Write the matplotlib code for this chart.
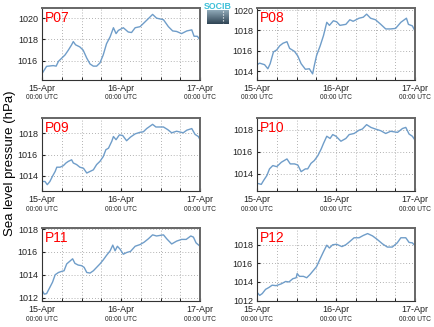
import numpy as np
import matplotlib
matplotlib.use('Agg')
import matplotlib.pyplot as plt
import matplotlib.dates as mdates
from datetime import datetime, timedelta

plt.rcParams['font.family'] = ['Liberation Sans', 'DejaVu Sans']

# hours after 15-Apr 00:00 UTC, and sea level pressure (hPa) per station
p07_h = [0, 1.4, 3.4, 4.3, 5, 6, 7, 8, 9, 9.5, 10.2, 11.5, 12.5, 13.6, 14.6, 15.6, 16.6, 17.6, 18.6, 19.6,
         20.7, 21.7, 22.5, 23.2, 24.7, 26.2, 27.2, 28.3, 29.8, 31.3, 32.3, 33.6, 34.8, 36.9, 38.4, 39.7,
         40.9, 42.4, 44, 45.5, 46.2, 47.2, 48]
p07_v = [1014.8, 1015.48, 1015.55, 1015.5, 1015.95, 1016.25, 1016.55, 1017.0, 1017.5, 1017.8, 1017.5, 1017.3,
         1017.0, 1016.25, 1015.7, 1015.5, 1015.5, 1015.8, 1016.55, 1017.6, 1018.25, 1019.1, 1018.55, 1018.85,
         1019.1, 1018.7, 1018.65, 1019.1, 1019.2, 1019.65, 1019.95, 1020.35, 1020.0, 1019.85, 1019.2, 1018.8,
         1018.75, 1018.55, 1018.8, 1018.9, 1018.3, 1018.3, 1017.95]

p08_h = [0, 0.8, 2.3, 3.3, 4.0, 5, 6, 6.9, 7.9, 9.1, 9.9, 11.4, 12.4, 13.4, 14.7, 15.9, 16.9, 17.4, 18.1,
         19.2, 20.2, 21.2, 22, 23.2, 24.2, 25.2, 27, 28.2, 29.2, 31, 32.3, 33.3, 34.5, 36, 37.6, 39.1,
         40.6, 42.1, 43.7, 45.4, 46, 47.2, 48]
p08_v = [1014.65, 1014.8, 1014.65, 1014.25, 1014.75, 1015.9, 1016.1, 1016.5, 1016.75, 1016.9, 1016.25,
         1015.95, 1015.5, 1014.75, 1014.2, 1014.25, 1013.75, 1014.55, 1015.55, 1016.5, 1017.5, 1018.8, 1018.5,
         1018.95, 1018.85, 1018.5, 1018.6, 1019.05, 1018.9, 1019.2, 1019.3, 1019.6, 1019.2, 1019.05, 1018.6,
         1018.15, 1018.15, 1018.2, 1018.8, 1019.2, 1018.6, 1018.45, 1017.95]

p09_h = [0, 0.9, 1.6, 2.4, 3.2, 4, 4.5, 5.5, 6.5, 7.3, 8, 9, 9.5, 10.5, 11.5, 12.6, 13.6, 14.6, 15.6, 16.6,
         17.6, 18.6, 19.4, 20.2, 21.2, 21.7, 22.5, 23.5, 24.5, 25.7, 26.9, 28.3, 29.8, 30.8, 31.8, 33.6,
         34.6, 36.9, 38.2, 39.4, 40.9, 42.9, 44, 45.5, 46.5, 47.5, 48]
p09_v = [1013.45, 1013.45, 1013.15, 1013.45, 1013.95, 1014.4, 1014.8, 1014.8, 1014.95, 1015.2, 1015.35,
         1015.5, 1015.2, 1015.05, 1014.8, 1014.7, 1014.25, 1014.4, 1014.55, 1015.05, 1015.35, 1015.8, 1016.45,
         1016.6, 1017.25, 1017.7, 1017.4, 1017.85, 1017.8, 1017.3, 1017.65, 1017.95, 1018.1, 1018.15, 1018.45,
         1018.85, 1018.6, 1018.6, 1018.35, 1018.05, 1018.2, 1018.05, 1018.3, 1018.45, 1017.9, 1017.7, 1017.4]

p10_h = [0, 1.3, 2, 3, 3.8, 4.8, 6, 7.4, 9.1, 10.1, 11.4, 12.4, 13.4, 14.7, 15.4, 16.4, 17.4, 18.5, 19.5,
         20.2, 21.2, 22.2, 23, 24, 25.5, 27, 28, 29.5, 31, 32, 33.3, 34.6, 36, 37.6, 39.1, 40.6, 42.7,
         44.2, 45.2, 46.2, 47.2, 48]
p10_v = [1013.15, 1013.05, 1013.4, 1013.85, 1014.45, 1014.75, 1014.65, 1015.05, 1015.35, 1014.9, 1014.9,
         1014.8, 1014.2, 1014.45, 1014.45, 1014.95, 1015.2, 1015.65, 1016.25, 1016.75, 1017.4, 1017.2,
         1017.55, 1017.4, 1016.95, 1017.2, 1017.55, 1017.65, 1017.95, 1018.05, 1018.45, 1018.2, 1018.05,
         1017.9, 1017.65, 1017.85, 1017.75, 1018.1, 1018.2, 1017.6, 1017.4, 1017.05]

p11_h = [0, 0.7, 1.4, 2.4, 3.2, 4, 5, 6, 6.7, 7.5, 8.5, 9.3, 10, 11, 12, 12.8, 13.6, 14.6, 15.6, 16.6,
         17.6, 18.6, 19.6, 20.7, 21.5, 22.2, 22.9, 23.7, 24.7, 25.7, 26.9, 28.3, 29.8, 31, 32.3, 33.6,
         34.8, 36.9, 37.9, 39.4, 40.9, 42.4, 43.8, 45.2, 46, 46.8, 48]
p11_v = [1012.65, 1012.3, 1012.35, 1012.9, 1013.35, 1014.0, 1014.2, 1014.3, 1014.35, 1014.95, 1015.2,
         1015.4, 1015.0, 1014.85, 1014.8, 1014.65, 1014.2, 1014.15, 1014.35, 1014.65, 1014.95, 1015.3,
         1015.7, 1016.1, 1016.6, 1016.1, 1016.5, 1016.25, 1015.8, 1015.95, 1016.05, 1016.5, 1016.65, 1016.85,
         1017.15, 1017.5, 1017.4, 1017.5, 1017.15, 1016.7, 1016.95, 1017.1, 1017.1, 1017.4, 1017.3, 1016.8,
         1016.5]

p12_h = [0, 0.8, 1.6, 2.6, 3.6, 4.6, 5.8, 7.4, 8.7, 9.7, 10.9, 11.9, 12.2, 12.9, 14.1, 15.1, 16.1, 17.4,
         18.1, 19.2, 20.2, 21.2, 22, 23, 24.2, 25.8, 27, 28.2, 29.5, 31, 32.3, 33.6, 35.1, 36.6, 38.1, 39.6,
         41.1, 42.6, 43.7, 45.2, 46.2, 47.2, 48]
p12_v = [1012.9, 1012.55, 1012.75, 1013.2, 1013.4, 1013.65, 1013.6, 1013.8, 1014.05, 1014.0, 1014.35,
         1014.45, 1014.9, 1014.6, 1014.6, 1014.45, 1014.8, 1015.35, 1015.65, 1016.5, 1017.25, 1017.95, 1017.65,
         1018.0, 1018.05, 1017.8, 1018.0, 1018.35, 1018.75, 1018.75, 1019.0, 1019.2, 1018.95, 1018.55, 1018.1,
         1017.75, 1017.75, 1018.2, 1018.75, 1018.75, 1018.25, 1018.2, 1017.9]

stations = ['P07', 'P08', 'P09', 'P10', 'P11', 'P12']
hours = [p07_h, p08_h, p09_h, p10_h, p11_h, p12_h]
values = [p07_v, p08_v, p09_v, p10_v, p11_v, p12_v]
day_labels = ['15-Apr', '16-Apr', '17-Apr']

start = datetime(2013, 4, 15)

fig = plt.figure(figsize=(4.35, 3.27), dpi=100)
W, H = 435.0, 327.0
lefts = [42, 257]
rows = [(8, 80), (118, 191), (228, 301)]

for i, name in enumerate(stations):
    r, c = divmod(i, 2)
    top, bot = rows[r]
    ax = fig.add_axes([lefts[c] / W, 1 - bot / H, 158 / W, (bot - top) / H])
    t = [start + timedelta(hours=h) for h in hours[i]]
    v = values[i]
    ax.plot(t, v, color='#6f9dc9', lw=1.0)
    ax.set_xlim(start, start + timedelta(hours=48))
    ax.set_ylim(min(v) - 0.6, max(v) + 0.6)
    ax.yaxis.set_major_locator(plt.MultipleLocator(2))
    ax.xaxis.set_minor_locator(mdates.HourLocator(byhour=[6, 12, 18]))
    ax.set_xticks([start + timedelta(days=d) for d in range(3)])
    ax.set_xticklabels(day_labels)
    ax.grid(True, which='both', ls=(0, (1, 2.5)), color='#999999', lw=0.6)
    ax.tick_params(labelsize=6.5, length=2, direction='in', pad=3, colors='#222222')
    ax.tick_params(axis='x', which='minor', length=2, direction='in')
    for s in ['left', 'bottom']:
        ax.spines[s].set_color('#333333')
        ax.spines[s].set_linewidth(0.8)
    for s in ['top', 'right']:
        ax.spines[s].set_color('#666666')
        ax.spines[s].set_linewidth(1.4)
    # second line of the date labels, smaller
    for k in range(3):
        ax.text(k / 2, -0.25, '00:00 UTC', transform=ax.transAxes, ha='center', va='center',
                fontsize=4.8, color='#222222')
    ax.text(0.02, 0.96, name, transform=ax.transAxes, ha='left', va='top',
            fontsize=10, color='red')

fig.text(10 / W, 0.5, 'Sea level pressure (hPa)', rotation=90, ha='center', va='center',
         fontsize=9.5)

# logo
fig.text(218 / W, 1 - 6.5 / H, 'SOCIB', ha='center', va='center', fontsize=6.3,
         color='#3cc0d8', fontweight='bold')
lax = fig.add_axes([207 / W, 1 - 24 / H, 22 / W, 14 / H])
grad = np.linspace(0, 1, 50).reshape(-1, 1)
lax.imshow(grad, aspect='auto', cmap=matplotlib.colors.LinearSegmentedColormap.from_list(
    'logo', ['#8fa9b8', '#2f4454']))
lax.set_xlim(-0.5, 0.5)
lax.plot([0.25, 0.25], [3, 45], ls=':', color='white', lw=0.8)
lax.axis('off')

fig.savefig('out.png', dpi=100)
